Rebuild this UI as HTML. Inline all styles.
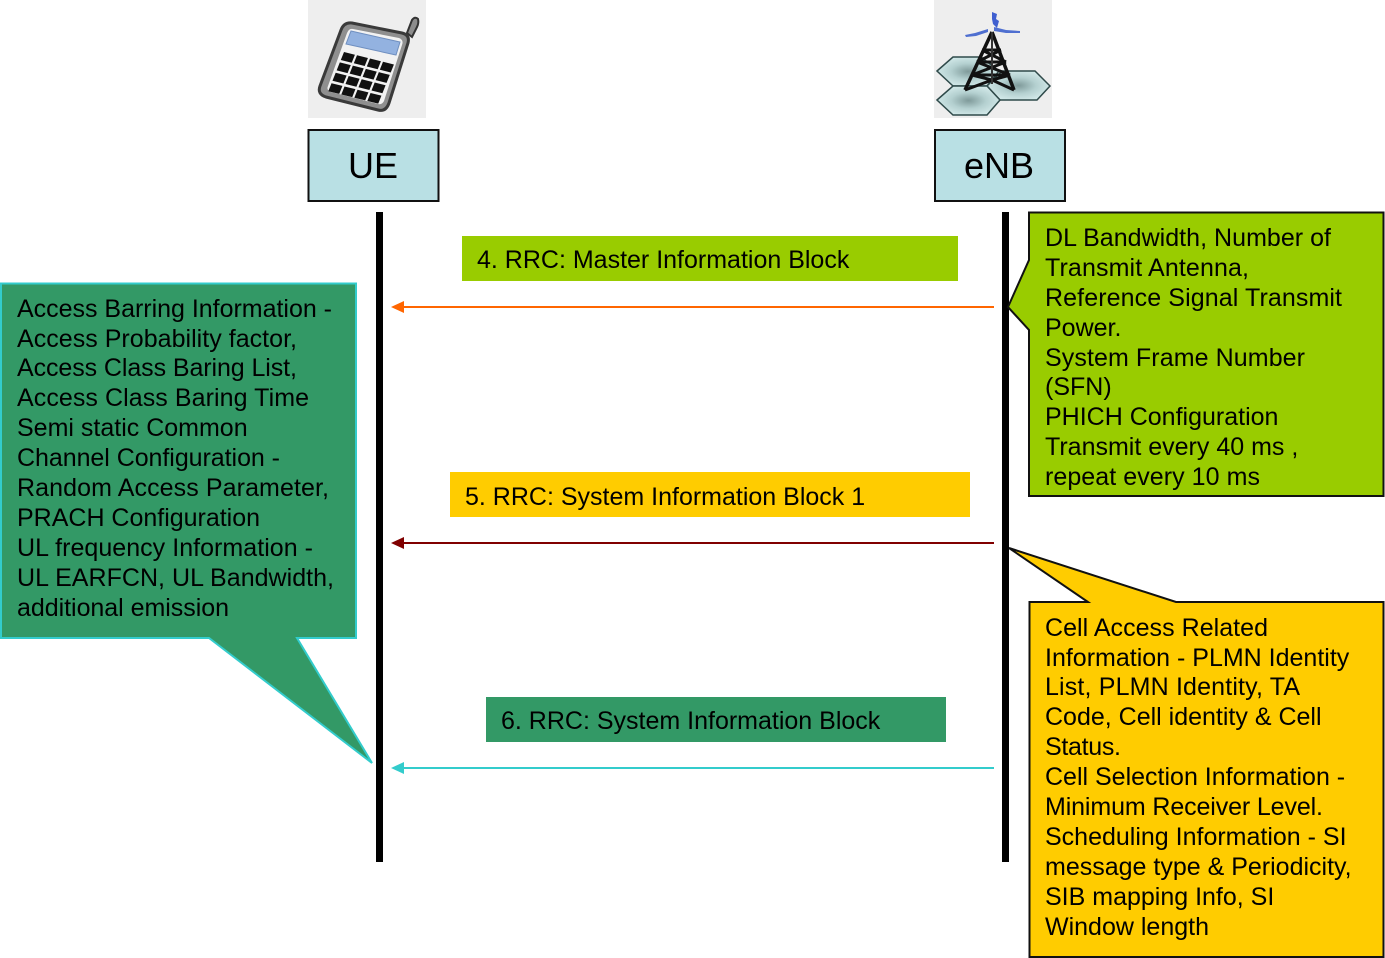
<!DOCTYPE html>
<html><head><meta charset="utf-8"><style>
html,body{margin:0;padding:0;background:#fff;width:1385px;height:958px;overflow:hidden}
svg{display:block}
text{font-family:"Liberation Sans",Arial,sans-serif;font-size:25px;fill:#000}
</style></head><body>
<svg width="1385" height="958" viewBox="0 0 1385 958" xmlns="http://www.w3.org/2000/svg">
<defs>
<radialGradient id="h1"><stop offset="0" stop-color="#7f9a9a"/><stop offset=".55" stop-color="#b4d0d0"/><stop offset="1" stop-color="#cfe6e6"/></radialGradient>
</defs>
<!-- UE icon -->
<rect x="308" y="0" width="118" height="118" fill="#eeeeee"/>
<path d="M407 33 L412 20 Q415 16 418 19 Q419 23 417 27 L412 37 Z" fill="#8d8d8d" stroke="#333" stroke-width="2"/>
<path d="M352 23 L402 33 Q410 35 408 43 L389 103 Q386 112 378 110 L326 97 Q317 94 320 86 L341 30 Q344 22 352 23 Z" fill="#8f8f8f" stroke="#3a3a3a" stroke-width="3"/>
<path d="M353 29 L399 38 Q404 40 402 45 L384 101 Q382 105 378 104 L331 92 Q326 90 328 86 L347 33 Q349 28 353 29 Z" fill="#f2f2f2"/>
<path d="M351 31 L400 42 L396 55 L346 44 Z" fill="#93b2e0" stroke="#6f8fc0" stroke-width="1"/>
<g fill="#111" transform="matrix(52 13 -16 40 344 52)">
<rect x="0" y="0" width=".21" height=".2"/><rect x=".25" y="0" width=".21" height=".2"/><rect x=".5" y="0" width=".21" height=".2"/><rect x=".75" y="0" width=".21" height=".2"/>
<rect x="0" y=".26" width=".21" height=".2"/><rect x=".25" y=".26" width=".21" height=".2"/><rect x=".5" y=".26" width=".21" height=".2"/><rect x=".75" y=".26" width=".21" height=".2"/>
<rect x="0" y=".52" width=".21" height=".2"/><rect x=".25" y=".52" width=".21" height=".2"/><rect x=".5" y=".52" width=".21" height=".2"/><rect x=".75" y=".52" width=".21" height=".2"/>
<rect x="0" y=".78" width=".21" height=".2"/><rect x=".25" y=".78" width=".21" height=".2"/><rect x=".5" y=".78" width=".21" height=".2"/><rect x=".75" y=".78" width=".21" height=".2"/>
</g>
<!-- eNB icon -->
<rect x="934" y="0" width="118" height="118" fill="#eeeeee"/>
<g stroke="#2f4a4a" stroke-width="1.500">
<path d="M937 71 L953 57 L981 57 L999 71 L987 86 L953 86 Z" fill="url(#h1)"/>
<path d="M987 86 L1002 71 L1035 71 L1050 86 L1037 100 L1000 100 Z" fill="url(#h1)"/>
<path d="M937 100 L953 86 L987 86 L1000 100 L987 115 L953 115 Z" fill="url(#h1)"/>
</g>
<g stroke="#111" stroke-width="3" fill="none">
<path d="M992 32 L965 90 M992 32 L1014 90" stroke-width="3.500"/>
<path d="M982 50 L1001 50 M977 62 L1006 62 M972 75 L1010 75 M982 50 L1006 62 M1001 50 L977 62 M977 62 L1010 75 M1006 62 L972 75 M972 75 L992 80 L965 90 M1010 75 L992 80 L1014 90"/>
<path d="M992 32 V84" stroke-width="2" stroke="#333"/>
</g>
<path d="M992 12 L997 14 L996 19 L999 21 L997 28 L993 24 L992 19 Z" fill="#3f5fd0"/>
<path d="M965 35 L975 33 L988 29 L988 32 L976 36 L966 37 Z M994 27 L1006 30 L1020 31 L1020 33 L1006 33 L994 31 Z" fill="#4f6fd0"/>
<!-- headers -->
<rect x="308.500" y="130" width="130" height="71" fill="#b9e0e4" stroke="#111" stroke-width="2"/>
<rect x="935" y="130" width="130" height="71" fill="#b9e0e4" stroke="#111" stroke-width="2"/>
<text x="373" y="178" text-anchor="middle" style="font-size:36px">UE</text>
<text x="999" y="178" text-anchor="middle" style="font-size:36px">eNB</text>
<!-- lifelines -->
<rect x="376" y="212" width="7" height="650" fill="#000"/>
<rect x="1002" y="212" width="7" height="650" fill="#000"/>
<!-- message labels -->
<rect x="462" y="236" width="496" height="45" fill="#99cc00"/>
<text x="477" y="268">4. RRC: Master Information Block</text>
<rect x="450" y="472" width="520" height="45" fill="#ffcc00"/>
<text x="465" y="505">5. RRC: System Information Block 1</text>
<rect x="486" y="697" width="460" height="45" fill="#339966"/>
<text x="501" y="729">6. RRC: System Information Block</text>
<!-- arrows -->
<path d="M402 307 H994" stroke="#ff6600" stroke-width="2"/><path d="M391 307 L404 301 V313 Z" fill="#ff6600"/>
<path d="M402 543 H994" stroke="#800000" stroke-width="2"/><path d="M391 543 L404 537 V549 Z" fill="#800000"/>
<path d="M402 768 H994" stroke="#33cccc" stroke-width="2"/><path d="M391 768 L404 762 V774 Z" fill="#33cccc"/>
<!-- callouts -->
<path d="M1029 212.500 H1383.500 V496 H1029 V330 L1008 307 L1029 260 Z" fill="#99cc00" stroke="#111" stroke-width="2"/>
<path d="M1029.500 602 H1088 L1009 548 L1176 602 H1383.500 V957 H1029.500 Z" fill="#ffcc00" stroke="#111" stroke-width="2"/>
<path d="M1 283.500 H356 V638 H297 L372 763 L209 638 H1 Z" fill="#339966" stroke="#33cccc" stroke-width="2"/>
<!-- green right text -->
<text x="1045" y="246" textLength="286">DL Bandwidth, Number of</text>
<text x="1045" y="276" textLength="204">Transmit Antenna,</text>
<text x="1045" y="306" textLength="297">Reference Signal Transmit</text>
<text x="1045" y="336">Power.</text>
<text x="1045" y="366" textLength="260">System Frame Number</text>
<text x="1045" y="395">(SFN)</text>
<text x="1045" y="425">PHICH Configuration</text>
<text x="1045" y="455">Transmit every 40 ms ,</text>
<text x="1045" y="485" textLength="215">repeat every 10 ms</text>
<!-- orange text -->
<text x="1045" y="636" textLength="223">Cell Access Related</text>
<text x="1045" y="666">Information - PLMN Identity</text>
<text x="1045" y="695" textLength="255">List, PLMN Identity, TA</text>
<text x="1045" y="725">Code, Cell identity &amp; Cell</text>
<text x="1045" y="755" textLength="76">Status.</text>
<text x="1045" y="785">Cell Selection Information -</text>
<text x="1045" y="815" textLength="278">Minimum Receiver Level.</text>
<text x="1045" y="845">Scheduling Information - SI</text>
<text x="1045" y="875">message type &amp; Periodicity,</text>
<text x="1045" y="905">SIB mapping Info, SI</text>
<text x="1045" y="935">Window length</text>
<!-- left text -->
<text x="17" y="317" textLength="315">Access Barring Information -</text>
<text x="17" y="347" textLength="280">Access Probability factor,</text>
<text x="17" y="376" textLength="280">Access Class Baring List,</text>
<text x="17" y="406" textLength="292">Access Class Baring Time</text>
<text x="17" y="436">Semi static Common</text>
<text x="17" y="466" textLength="263">Channel Configuration -</text>
<text x="17" y="496" textLength="312">Random Access Parameter,</text>
<text x="17" y="526" textLength="243">PRACH Configuration</text>
<text x="17" y="556" textLength="296">UL frequency Information -</text>
<text x="17" y="586" textLength="317">UL EARFCN, UL Bandwidth,</text>
<text x="17" y="616" textLength="212">additional emission</text>
</svg>
</body></html>
